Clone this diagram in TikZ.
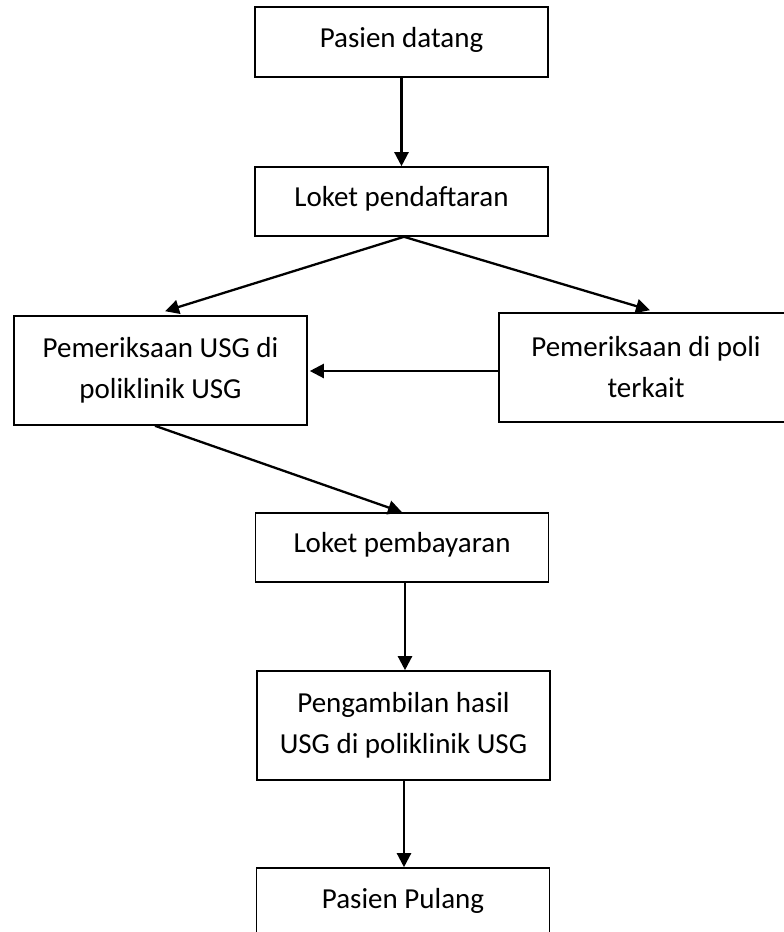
\documentclass[tikz,border=0pt]{standalone}
\usepackage{fontspec}
\setmainfont{Carlito}
\usetikzlibrary{arrows.meta}
\begin{document}
\begin{tikzpicture}[x=1pt,y=-1pt,
  box/.style={draw, line width=1.6pt, inner sep=0pt, minimum width=293pt,
    font=\fontsize{29}{41}\selectfont, align=center},
  one/.style={box, minimum height=70pt, text height=20pt, text depth=10pt},
  two/.style={box, minimum height=109pt},
  arr/.style={line width=2.3pt, -{Triangle[length=14pt,width=14pt]}}]
\useasboundingbox (0,0) rectangle (784,932);
\clip (0,0) rectangle (784,932);
\fill[white] (0,0) rectangle (784,932);
\node[one] (b1) at (401.5,42) {Pasien datang};
\node[one, minimum height=69pt] (b2) at (401.5,201.5) {Loket pendaftaran};
\node[two] (b3) at (160.5,370.5) {Pemeriksaan USG di\\poliklinik USG};
\node[two, minimum width=294pt] (b4) at (646,367.5) {Pemeriksaan di poli\\terkait};
\node[one, minimum height=69pt] (b5) at (402,547.5) {Loket pembayaran};
\node[two] (b6) at (403.5,725.5) {Pengambilan hasil\\USG di poliklinik USG};
\node[one] (b7) at (403,903) {Pasien Pulang};
\draw[arr] (b1.south) -- (b2.north);
\draw[arr] ([xshift=2.5pt]b2.south) -- ([xshift=4.5pt,yshift=4pt]b3.north);
\draw[arr] ([xshift=2.5pt]b2.south) -- ([xshift=4pt,yshift=2pt]b4.north);
\draw[arr] ([yshift=-3.5pt]b4.west) coordinate (h) -- ([xshift=2pt]b3.east |- h);
\draw[arr] ([xshift=-5.5pt]b3.south) -- (b5.north);
\draw[arr] ([xshift=3pt]b5.south) coordinate (v) -- (v |- b6.north);
\draw[arr] ([xshift=0.5pt]b6.south) coordinate (w) -- (w |- b7.north);
\end{tikzpicture}
\end{document}
